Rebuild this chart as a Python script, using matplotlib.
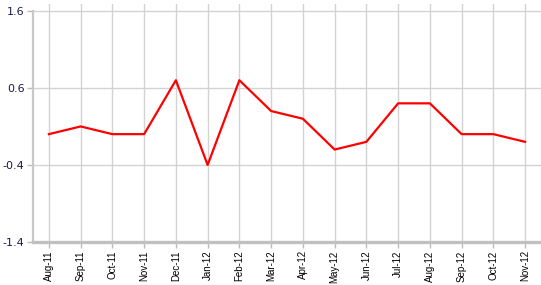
import matplotlib
matplotlib.use("Agg")
import matplotlib.pyplot as plt

months = ["Aug-11", "Sep-11", "Oct-11", "Nov-11", "Dec-11", "Jan-12", "Feb-12", "Mar-12",
          "Apr-12", "May-12", "Jun-12", "Jul-12", "Aug-12", "Sep-12", "Oct-12", "Nov-12"]
values = [0.0, 0.1, 0.0, 0.0, 0.7, -0.4, 0.7, 0.3,
          0.2, -0.2, -0.1, 0.4, 0.4, 0.0, 0.0, -0.1]
yticks = [-1.4, -0.4, 0.6, 1.6]

fig = plt.figure(figsize=(5.41, 2.85), dpi=100)
ax = fig.add_axes([0.061, 0.151, 0.939, 0.835])

x = list(range(len(months)))
ax.plot(x, values, color="#ff0000", linewidth=1.6, zorder=3)

ax.set_xlim(-0.5, len(months) - 0.5)
ax.set_ylim(-1.4, 1.69)
ax.set_xticks(x)
ax.set_xticklabels(months, rotation=90, fontsize=7, family="Liberation Sans", color="black")
ax.set_yticks(yticks)
ax.set_yticklabels([str(v) for v in yticks], fontsize=8, family="DejaVu Sans", color="#1a1a4e")

ax.grid(True, color="#d3d3d3", linewidth=1)
ax.set_axisbelow(True)

for s in ["top", "right"]:
    ax.spines[s].set_visible(False)
ax.spines["left"].set_bounds(-1.4, 1.6)
ax.spines["left"].set_color("#c8c8c8")
ax.spines["left"].set_linewidth(1.6)
ax.spines["bottom"].set_color("#c0c0c0")
ax.spines["bottom"].set_linewidth(2.4)
ax.tick_params(axis="both", color="#bcbcbc", length=4, width=1, pad=2)

fig.savefig("out.png", dpi=100)
